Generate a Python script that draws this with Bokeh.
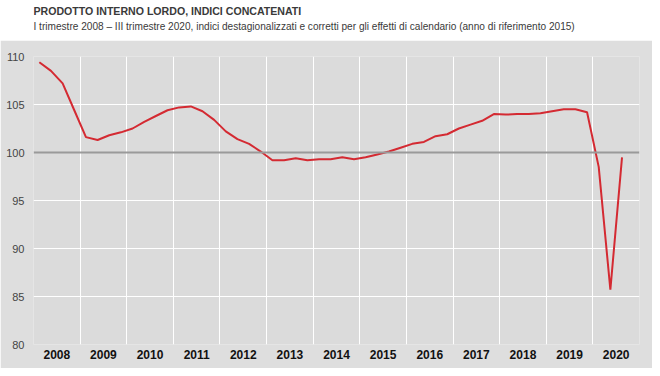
from bokeh.plotting import figure
from bokeh.layouts import column
from bokeh.models import Range1d, FixedTicker, CustomJSTickFormatter, Span
from bokeh.core.properties import value
from bokeh.embed import file_html
from bokeh.resources import INLINE

FONT = "Liberation Sans"

title_text = "PRODOTTO INTERNO LORDO, INDICI CONCATENATI"
subtitle_text = ("I trimestre 2008 \u2013 III trimestre 2020, indici destagionalizzati e corretti "
                 "per gli effetti di calendario (anno di riferimento 2015)")

years = list(range(2008, 2021))
quarters_per_year = 4

v2008 = [109.4, 108.5, 107.2, 104.4]
v2009 = [101.6, 101.3, 101.8, 102.1]
v2010 = [102.5, 103.2, 103.8, 104.4]
v2011 = [104.7, 104.8, 104.3, 103.4]
v2012 = [102.2, 101.4, 100.9, 100.1]
v2013 = [99.2, 99.2, 99.4, 99.2]
v2014 = [99.3, 99.3, 99.5, 99.3]
v2015 = [99.5, 99.8, 100.1, 100.5]
v2016 = [100.9, 101.1, 101.7, 101.9]
v2017 = [102.5, 102.9, 103.3, 104.0]
v2018 = [103.95, 104.0, 104.0, 104.1]
v2019 = [104.3, 104.5, 104.5, 104.2]
v2020 = [98.5, 85.7, 99.5]

series = [v2008, v2009, v2010, v2011, v2012, v2013, v2014, v2015,
          v2016, v2017, v2018, v2019, v2020]

y_ticks = [80, 85, 90, 95, 100, 105, 110]
reference_level = 100

xs, ys = [], []
for yr, vals in zip(years, series):
    for q, v in enumerate(vals):
        xs.append(yr + (q + 0.5) / quarters_per_year)
        ys.append(v)

W = 652
H_TOP = 40
H_MAIN = 328

# header
top = figure(width=W, height=H_TOP, x_range=Range1d(0, W), y_range=Range1d(H_TOP, 0),
             x_axis_type=None, y_axis_type=None, toolbar_location=None,
             output_backend="svg", min_border=0)
top.outline_line_color = None
top.background_fill_color = "white"
top.border_fill_color = "white"
top.text(x=[0], y=[4], text=[title_text], text_font=value(FONT), text_font_style="bold",
         text_font_size="10.6px", text_color="#3a3a3a", text_baseline="top", text_align="left")
top.text(x=[0], y=[20], text=[subtitle_text], text_font=value(FONT),
         text_font_size="10.1px", text_color="#3a3a3a", text_baseline="top", text_align="left")

# main chart
p = figure(width=W, height=H_MAIN, x_range=Range1d(years[0], years[-1] + 1),
           y_range=Range1d(y_ticks[0], y_ticks[-1]), toolbar_location=None,
           output_backend="svg", min_border_left=33, min_border_right=13,
           min_border_top=16, min_border_bottom=24)
p.background_fill_color = "#dbdbdb"
p.border_fill_color = "#dedede"
p.outline_line_color = None

p.xaxis.ticker = FixedTicker(ticks=[y + 0.5 for y in years])
p.xaxis.formatter = CustomJSTickFormatter(code="return Math.floor(tick).toString();")
p.xaxis.axis_line_color = None
p.xaxis.major_tick_line_color = None
p.xaxis.minor_tick_line_color = None
p.xaxis.major_tick_out = 0
p.xaxis.major_label_standoff = 5
p.xaxis.major_label_text_font = FONT
p.xaxis.major_label_text_font_style = "bold"
p.xaxis.major_label_text_font_size = "12px"
p.xaxis.major_label_text_color = "#111111"

p.yaxis.ticker = FixedTicker(ticks=y_ticks)
p.yaxis.axis_line_color = None
p.yaxis.major_tick_line_color = None
p.yaxis.minor_tick_line_color = None
p.yaxis.major_tick_out = 0
p.yaxis.major_label_standoff = 9
p.yaxis.major_label_text_font = FONT
p.yaxis.major_label_text_font_size = "11px"
p.yaxis.major_label_text_color = "#444444"

p.xgrid.ticker = FixedTicker(ticks=list(range(years[0], years[-1] + 2)))
p.xgrid.grid_line_color = "white"
p.xgrid.grid_line_width = 1
p.ygrid.ticker = FixedTicker(ticks=y_ticks)
p.ygrid.grid_line_color = "white"
p.ygrid.grid_line_width = 1

p.add_layout(Span(location=reference_level, dimension="width", line_color="#9a9a9a", line_width=2))

p.line(xs, ys, line_color="#d42a32", line_width=2)

layout = column(top, p, spacing=0)
open("out.html", "w").write(file_html(layout, INLINE))
